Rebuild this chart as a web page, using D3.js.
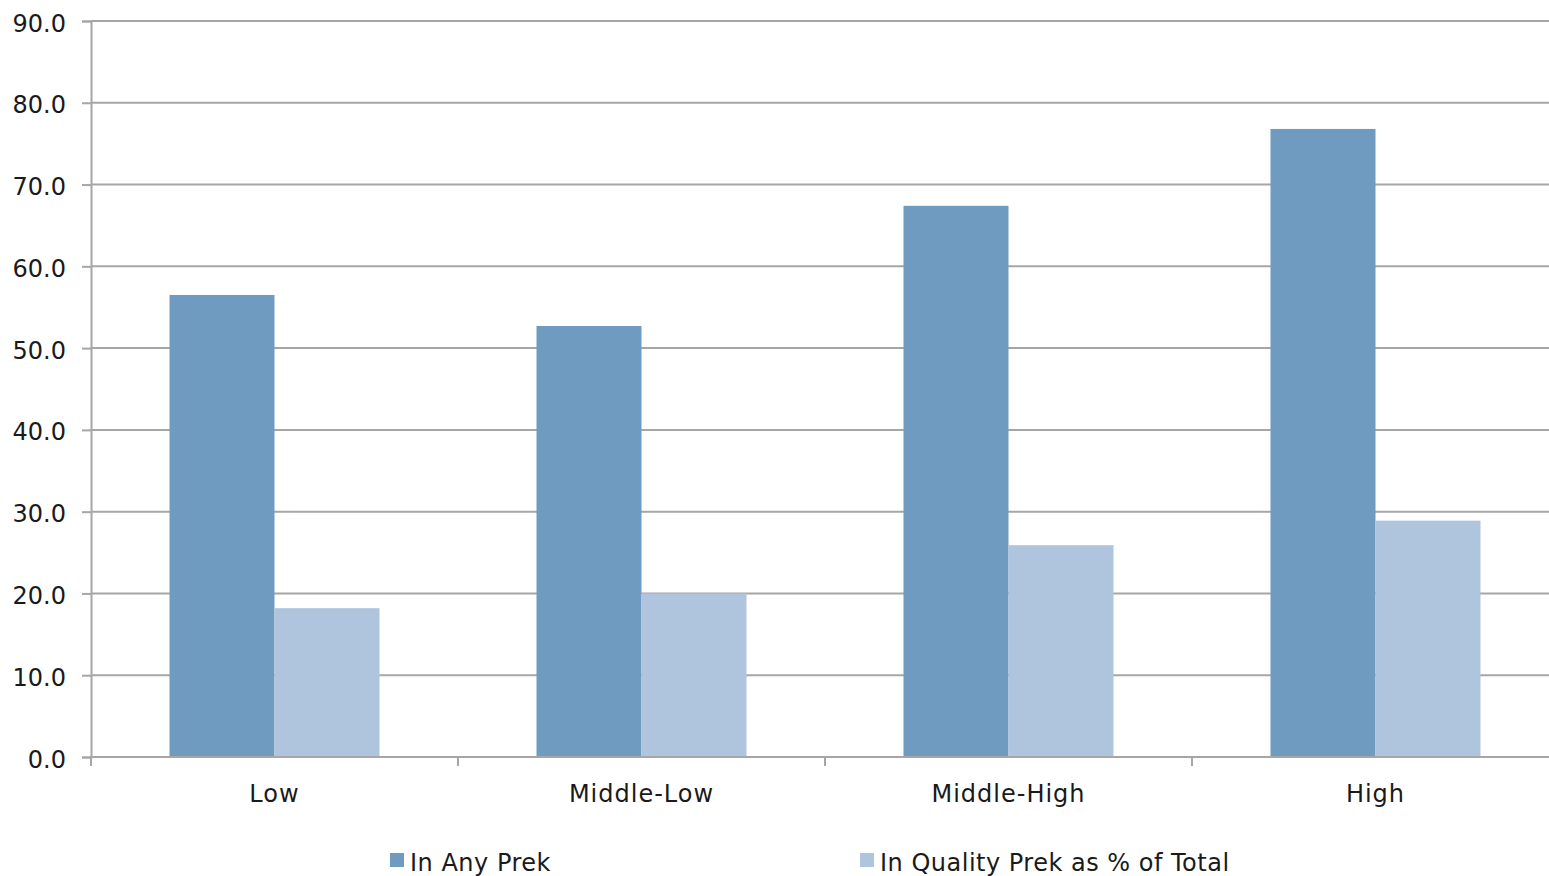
<!DOCTYPE html>
<html><head><meta charset="utf-8">
<script src="https://cdn.jsdelivr.net/npm/d3@7"></script>
<style>body{margin:0;background:#fff}svg{display:block;font-family:"DejaVu Sans",sans-serif}</style>
</head><body><svg id="c" width="1549" height="876"></svg>
<script>
const categories = ["Low", "Middle-Low", "Middle-High", "High"];
const seriesNames = ["In Any Prek", "In Quality Prek as % of Total"];
const anyPrek = [56.5, 52.7, 67.4, 76.8];
const qualityPrek = [18.2, 20.0, 25.9, 28.9];
const yTicks = [0, 10, 20, 30, 40, 50, 60, 70, 80, 90];
const colors = ["#6F9BC0", "#AFC5DD"];

(function () {
const svg = d3.select("#c");
const mL = 91, mR = 1559, mT = 21, mB = 757;
const x = d3.scaleBand().domain(categories).range([mL, mR]).paddingInner(0).paddingOuter(0);
const y = d3.scaleLinear().domain([0, 90]).range([mB, mT]);
const barW = x.bandwidth() * 105 / 367;
const groupOff = (x.bandwidth() - 2 * barW) / 2;

svg.append("g").selectAll("line").data(yTicks.filter(d => d > 0)).join("line")
  .attr("x1", mL).attr("x2", mR).attr("y1", d => y(d)).attr("y2", d => y(d))
  .attr("stroke", "#A6A6A6").attr("stroke-width", 2);

const series = [anyPrek, qualityPrek];
series.forEach((vals, si) => {
  svg.append("g").selectAll("rect").data(categories).join("rect")
    .attr("x", c => x(c) + groupOff + si * barW)
    .attr("width", barW)
    .attr("y", (c, i) => y(vals[i]))
    .attr("height", (c, i) => y(0) - y(vals[i]))
    .attr("fill", colors[si]);
});

const yAxis = d3.axisLeft(y).tickValues(yTicks).tickFormat(d3.format(".1f")).tickSize(9).tickPadding(16);
const yg = svg.append("g").attr("transform", `translate(${mL},0)`).call(yAxis);
yg.select(".domain").attr("stroke", "#A6A6A6").attr("stroke-width", 2);
yg.selectAll(".tick line").attr("stroke", "#A6A6A6").attr("stroke-width", 2);
yg.selectAll("text").attr("font-size", 24).attr("fill", "#1a1a1a").attr("font-family", "DejaVu Sans").attr("dy", "0.42em");

const xb = d3.scaleLinear().domain([0, 4]).range([mL, mR]);
const xg = svg.append("g").attr("transform", `translate(0,${mB})`);
xg.append("line").attr("x1", mL).attr("x2", mR).attr("stroke", "#A6A6A6").attr("stroke-width", 2);
xg.selectAll("line.t").data([0, 1, 2, 3, 4]).join("line").attr("class", "t")
  .attr("x1", d => xb(d)).attr("x2", d => xb(d)).attr("y1", 0).attr("y2", 9)
  .attr("stroke", "#A6A6A6").attr("stroke-width", 2);
xg.selectAll("text").data(categories).join("text")
  .attr("x", c => x(c) + x.bandwidth() / 2).attr("y", 45)
  .attr("text-anchor", "middle").attr("font-size", 24).attr("letter-spacing", 1).attr("fill", "#1a1a1a").text(c => c);

const legX = [390, 860];
const lg = svg.append("g");
seriesNames.forEach((n, i) => {
  lg.append("rect").attr("x", legX[i]).attr("y", 853).attr("width", 14).attr("height", 14).attr("fill", colors[i]);
  lg.append("text").attr("x", legX[i] + 20).attr("y", 871).attr("font-size", 24).attr("letter-spacing", 0.5).attr("fill", "#1a1a1a").text(n);
});
})();
</script></body></html>
